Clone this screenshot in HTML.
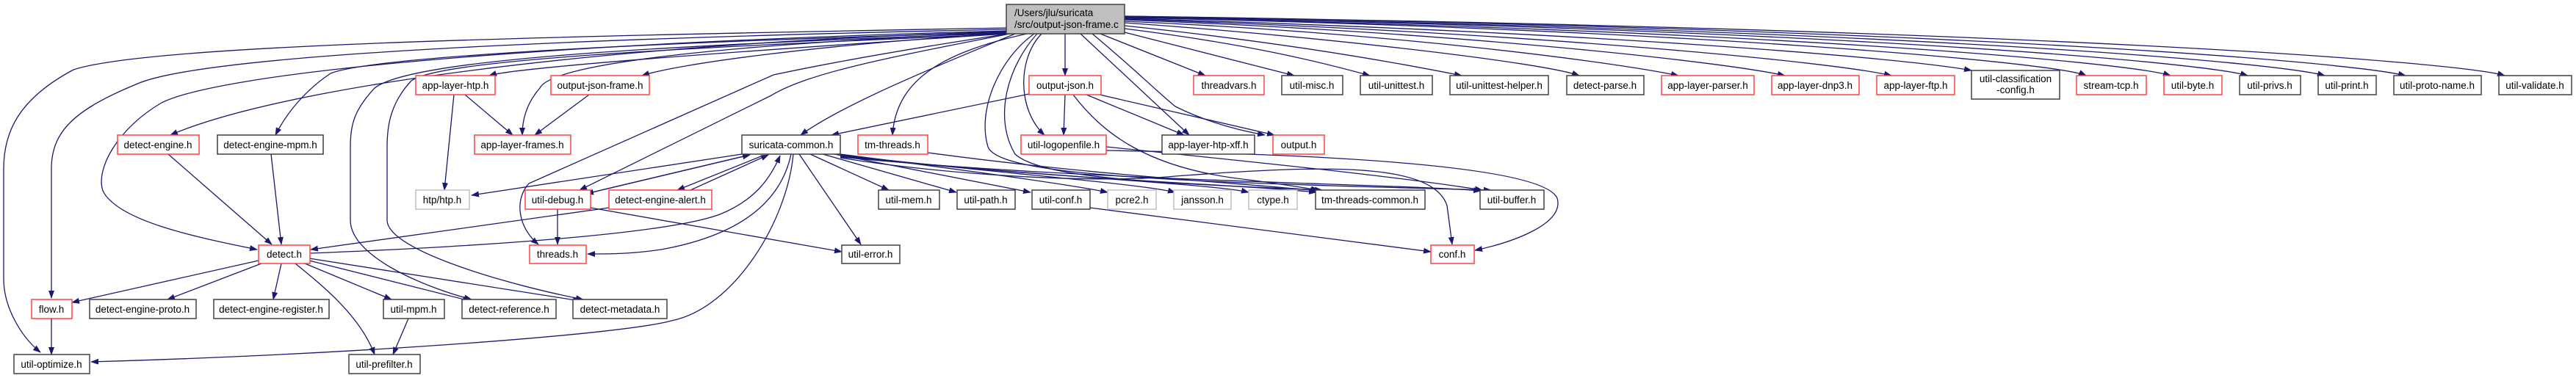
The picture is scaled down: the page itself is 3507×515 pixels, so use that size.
<!DOCTYPE html>
<html><head><meta charset="utf-8"><style>
html,body{margin:0;padding:0;background:#fff;width:3507px;height:515px;overflow:hidden}
svg{display:block}
text{font-family:"Liberation Sans",Arial,sans-serif;font-size:13.5px;fill:#000}
.e{fill:none;stroke:#191970;stroke-width:1.3}
.n{fill:#fff;stroke:#404040;stroke-width:1.5}
.r{fill:#fff;stroke:#ff4040;stroke-width:1.5}
.g{fill:#fff;stroke:#bfbfbf;stroke-width:1.5}
</style></head><body>
<svg width="3507" height="515" viewBox="0 0 3507 515" xmlns="http://www.w3.org/2000/svg">
<defs><marker id="a" markerWidth="11" markerHeight="8" refX="10" refY="4" orient="auto" markerUnits="userSpaceOnUse"><path d="M0,0 L11,4 L0,8z" fill="#191970"/></marker></defs>
<g class="e" marker-end="url(#a)">
<!-- from main, left side -->
<path d="M1370,38 C700,50 200,62 100,95 C25,135 5,180 5,230 L5,380 C5,420 30,460 55,480"/>
<path d="M1370,40 C650,55 260,80 185,115 C100,150 70,180 70,230 L70,406"/>
<path d="M1370,42 C700,60 300,100 220,140 C160,175 130,230 140,260 C160,300 260,322 350,340"/>
<path d="M1370,43 C800,60 380,120 232,184"/>
<path d="M1372,44 C800,60 500,80 450,100 C420,120 392,150 375,184"/>
<path d="M1375,45 C900,62 560,80 510,120 C482,150 477,170 477,200 L477,300 C477,350 580,392 642,408"/>
<path d="M1378,46 C900,66 600,82 560,110 C532,140 527,170 527,200 L527,300 C527,342 700,390 794,408"/>
<path d="M1370,46 C1000,70 700,92 666,103"/>
<path d="M1372,44 C1000,60 752,85 735,120 C713,145 711,170 711,184"/>
<path d="M1372,45 C1100,62 920,88 874,103"/>
<path d="M1375,46 C1200,80 1100,100 1050,130 L789,259"/>
<path d="M1373,46 C1200,72 1100,92 1053,102 L720,250 C700,272 705,310 733,333"/>
<path d="M1382,46 C1300,80 1150,140 1090,184"/>
<path d="M1398,46 C1280,72 1220,110 1215,184"/>
<path d="M1450,46 L1450,103"/>
<path d="M1418,46 C1385,80 1385,150 1422,184"/>
<path d="M1408,46 C1360,80 1330,150 1345,200 C1360,240 1600,248 2030,259"/>
<path d="M1412,46 C1372,90 1352,160 1382,210 C1420,245 1600,250 1800,259"/>
<path d="M1471,46 L1619,184"/>
<path d="M1487,46 C1540,90 1570,120 1600,145 C1650,170 1700,180 1722,184"/>
<!-- from main right -->
<path d="M1498,46 L1641,103"/>
<path d="M1531,44 L1762,103"/>
<path d="M1531,39 C1700,60 1800,85 1865,103"/>
<path d="M1531,35 C1750,58 1900,85 1990,103"/>
<path d="M1531,31 C1800,50 2100,85 2150,103"/>
<path d="M1531,29 C1900,45 2200,85 2285,103"/>
<path d="M1531,27 C2000,45 2350,85 2430,103"/>
<path d="M1531,26 C2100,45 2500,85 2575,103"/>
<path d="M1531,25 C2200,45 2600,80 2684,96"/>
<path d="M1531,24 C2300,40 2800,85 2840,103"/>
<path d="M1531,24 C2400,40 2900,85 2955,103"/>
<path d="M1531,23 C2500,40 3000,85 3060,103"/>
<path d="M1531,23 C2600,40 3100,85 3165,103"/>
<path d="M1531,22 C2700,40 3200,85 3275,103"/>
<path d="M1531,22 C2800,40 3350,85 3410,103"/>
<!-- others -->
<path d="M618,129 L605,259"/>
<path d="M633,129 L698,184"/>
<path d="M802,129 L728,184"/>
<path d="M229,210 L370,333"/>
<path d="M369,210 L383,333"/>
<path d="M1010,210 L642,266"/>
<path d="M829,283 L423,340"/>
<path d="M423,345 C600,338 900,322 980,292 C1030,272 1050,240 1062,212"/>
<path d="M1077,210 C1062,280 1000,322 900,340 C860,346 830,346 800,346"/>
<path d="M1080,210 C1072,300 1000,420 914,437 C850,455 500,482 124,493"/>
<path d="M806,262 L1021,211"/>
<path d="M1012,213 L798,264"/>
<path d="M940,259 L1046,211"/>
<path d="M1036,213 L922,259"/>
<path d="M759,285 L759,333"/>
<path d="M804,283 L1146,343"/>
<path d="M1088,210 L1172,333"/>
<path d="M1103,210 L1210,259"/>
<path d="M1120,210 L1302,262"/>
<path d="M1136,210 L1403,262"/>
<path d="M1144,210 C1300,230 1450,250 1508,262"/>
<path d="M1144,211 C1350,235 1550,250 1600,262"/>
<path d="M1144,212 C1400,240 1650,250 1700,262"/>
<path d="M1144,213 C1450,245 1700,252 1792,262"/>
<path d="M1144,214 C1500,248 1900,250 2016,260"/>
<path d="M1144,215 C1300,240 1500,250 1600,240 C1800,225 1950,220 1970,280 L1977,333"/>
<path d="M1263,208 C1500,240 1700,250 1794,260"/>
<path d="M1401,128 L1132,184"/>
<path d="M1450,129 L1448,184"/>
<path d="M1479,129 L1612,184"/>
<path d="M1497,129 L1735,184"/>
<path d="M1461,129 C1500,180 1560,230 1700,245 C1740,250 1770,255 1795,259"/>
<path d="M1506,200 C1700,220 1900,240 2018,259"/>
<path d="M1506,205 C1800,210 2100,225 2120,270 C2130,305 2060,330 2008,341"/>
<path d="M1484,283 L1948,343"/>
<path d="M352,355 L98,412"/>
<path d="M356,359 L228,408"/>
<path d="M383,359 L372,408"/>
<path d="M415,359 L533,408"/>
<path d="M421,355 L640,410"/>
<path d="M421,352 L790,410"/>
<path d="M402,359 C440,390 490,430 510,483"/>
<path d="M70,434 L70,483"/>
<path d="M556,434 L535,483"/>
</g>
<!-- nodes -->
<rect x="1370" y="6" width="161" height="40" fill="#bfbfbf" stroke="#404040" stroke-width="1.5"/>
<text x="1381" y="22">/Users/jlu/suricata</text>
<text x="1381" y="38">/src/output-json-frame.c</text>
<g text-anchor="middle">
<rect class="r" x="566" y="103" width="108" height="26"/><text x="620" y="121">app-layer-htp.h</text>
<rect class="r" x="750" y="103" width="134" height="26"/><text x="817" y="121">output-json-frame.h</text>
<rect class="r" x="1401" y="103" width="98" height="26"/><text x="1450" y="121">output-json.h</text>
<rect class="r" x="1625" y="103" width="96" height="26"/><text x="1673" y="121">threadvars.h</text>
<rect class="n" x="1745" y="103" width="83" height="26"/><text x="1786" y="121">util-misc.h</text>
<rect class="n" x="1852" y="103" width="98" height="26"/><text x="1901" y="121">util-unittest.h</text>
<rect class="n" x="1974" y="103" width="134" height="26"/><text x="2041" y="121">util-unittest-helper.h</text>
<rect class="n" x="2133" y="103" width="105" height="26"/><text x="2185" y="121">detect-parse.h</text>
<rect class="r" x="2262" y="103" width="126" height="26"/><text x="2325" y="121">app-layer-parser.h</text>
<rect class="r" x="2412" y="103" width="119" height="26"/><text x="2471" y="121">app-layer-dnp3.h</text>
<rect class="r" x="2555" y="103" width="106" height="26"/><text x="2608" y="121">app-layer-ftp.h</text>
<rect class="n" x="2684" y="96" width="120" height="39"/><text x="2744" y="112">util-classification</text><text x="2744" y="127">-config.h</text>
<rect class="r" x="2827" y="103" width="95" height="26"/><text x="2874" y="121">stream-tcp.h</text>
<rect class="r" x="2946" y="103" width="79" height="26"/><text x="2985" y="121">util-byte.h</text>
<rect class="n" x="3049" y="103" width="83" height="26"/><text x="3090" y="121">util-privs.h</text>
<rect class="n" x="3156" y="103" width="79" height="26"/><text x="3195" y="121">util-print.h</text>
<rect class="n" x="3259" y="103" width="119" height="26"/><text x="3318" y="121">util-proto-name.h</text>
<rect class="n" x="3402" y="103" width="99" height="26"/><text x="3451" y="121">util-validate.h</text>

<rect class="r" x="160" y="184" width="111" height="26"/><text x="215" y="202">detect-engine.h</text>
<rect class="n" x="296" y="184" width="144" height="26"/><text x="368" y="202">detect-engine-mpm.h</text>
<rect class="r" x="646" y="184" width="131" height="26"/><text x="711" y="202">app-layer-frames.h</text>
<rect class="n" x="1010" y="184" width="134" height="26"/><text x="1077" y="202">suricata-common.h</text>
<rect class="r" x="1168" y="184" width="95" height="26"/><text x="1215" y="202">tm-threads.h</text>
<rect class="r" x="1390" y="184" width="116" height="26"/><text x="1448" y="202">util-logopenfile.h</text>
<rect class="n" x="1582" y="184" width="126" height="26"/><text x="1645" y="202">app-layer-htp-xff.h</text>
<rect class="r" x="1733" y="184" width="70" height="26"/><text x="1768" y="202">output.h</text>

<rect class="g" x="566" y="259" width="73" height="26"/><text x="602" y="277">htp/htp.h</text>
<rect class="r" x="715" y="259" width="89" height="26"/><text x="759" y="277">util-debug.h</text>
<rect class="r" x="829" y="259" width="140" height="26"/><text x="899" y="277">detect-engine-alert.h</text>
<rect class="n" x="1196" y="259" width="83" height="26"/><text x="1237" y="277">util-mem.h</text>
<rect class="n" x="1303" y="259" width="79" height="26"/><text x="1342" y="277">util-path.h</text>
<rect class="n" x="1405" y="259" width="79" height="26"/><text x="1444" y="277">util-conf.h</text>
<rect class="g" x="1508" y="259" width="66" height="26"/><text x="1541" y="277">pcre2.h</text>
<rect class="g" x="1598" y="259" width="78" height="26"/><text x="1637" y="277">jansson.h</text>
<rect class="g" x="1700" y="259" width="66" height="26"/><text x="1733" y="277">ctype.h</text>
<rect class="n" x="1791" y="259" width="149" height="26"/><text x="1865" y="277">tm-threads-common.h</text>
<rect class="n" x="2015" y="259" width="87" height="26"/><text x="2058" y="277">util-buffer.h</text>

<rect class="r" x="352" y="334" width="70" height="25"/><text x="387" y="351">detect.h</text>
<rect class="r" x="721" y="334" width="77" height="25"/><text x="759" y="351">threads.h</text>
<rect class="n" x="1146" y="334" width="79" height="25"/><text x="1185" y="351">util-error.h</text>
<rect class="r" x="1948" y="334" width="59" height="25"/><text x="1977" y="351">conf.h</text>

<rect class="r" x="43" y="408" width="55" height="26"/><text x="70" y="426">flow.h</text>
<rect class="n" x="122" y="408" width="145" height="26"/><text x="194" y="426">detect-engine-proto.h</text>
<rect class="n" x="291" y="408" width="157" height="26"/><text x="369" y="426">detect-engine-register.h</text>
<rect class="n" x="522" y="408" width="83" height="26"/><text x="563" y="426">util-mpm.h</text>
<rect class="n" x="629" y="408" width="128" height="26"/><text x="693" y="426">detect-reference.h</text>
<rect class="n" x="780" y="408" width="128" height="26"/><text x="844" y="426">detect-metadata.h</text>

<rect class="n" x="19" y="483" width="103" height="26"/><text x="70" y="501">util-optimize.h</text>
<rect class="n" x="475" y="483" width="97" height="26"/><text x="523" y="501">util-prefilter.h</text>
</g>
</svg>
</body></html>
